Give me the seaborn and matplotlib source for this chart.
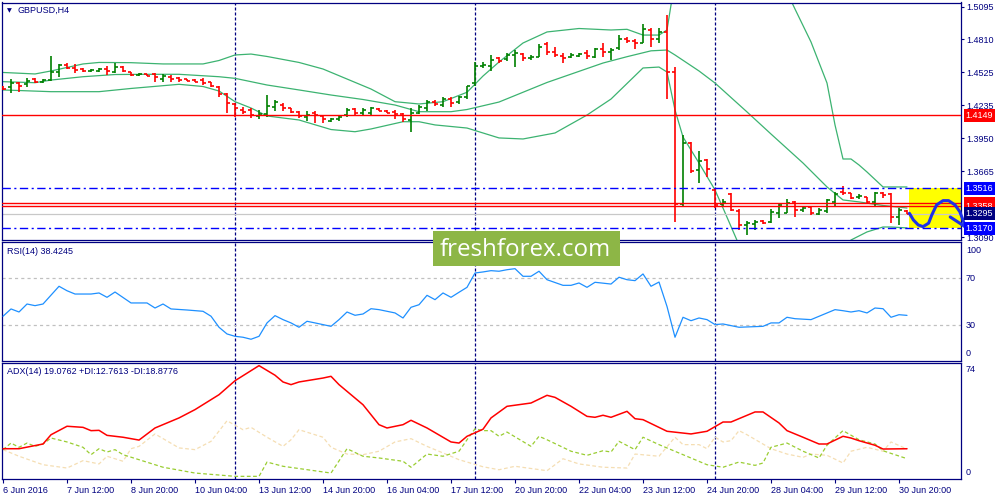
import matplotlib
matplotlib.use("Agg")
import matplotlib.pyplot as plt
from matplotlib.patches import Rectangle
import numpy as np
import seaborn as sns

sns.set_style("white")
plt.rcParams['font.family'] = ['Liberation Sans', 'DejaVu Sans']

# ---------------- data (GBPUSD H4, bar index 0 = 6 Jun 2016 04:00) ----------------
bar_open = [1.4396, 1.4396, 1.4430, 1.4422, 1.4465, 1.4439, 1.4456, 1.4526, 1.4587, 1.4561,
            1.4552, 1.4535, 1.4535, 1.4552, 1.4526, 1.4569, 1.4526, 1.4500, 1.4509, 1.4509,
            1.4465, 1.4483, 1.4474, 1.4461, 1.4456, 1.4456, 1.4439, 1.4396, 1.4335, 1.4248,
            1.4196, 1.4196, 1.4144, 1.4161, 1.4222, 1.4239, 1.4213, 1.4178, 1.4135, 1.4170,
            1.4144, 1.4100, 1.4118, 1.4152, 1.4205, 1.4170, 1.4170, 1.4205, 1.4187, 1.4178,
            1.4161, 1.4109, 1.4170, 1.4213, 1.4265, 1.4239, 1.4291, 1.4265, 1.4309, 1.4430,
            1.4578, 1.4578, 1.4648, 1.4639, 1.4674, 1.4682, 1.4648, 1.4656, 1.4769, 1.4700,
            1.4665, 1.4656, 1.4665, 1.4691, 1.4656, 1.4726, 1.4700, 1.4734, 1.4813, 1.4795,
            1.4778, 1.4891, 1.4813, 1.4874, 1.4526, 1.3379, 1.3909, 1.3675, 1.3761, 1.3501,
            1.3379, 1.3466, 1.3318, 1.3197, 1.3205, 1.3232, 1.3223, 1.3301, 1.3301, 1.3397,
            1.3327, 1.3353, 1.3292, 1.3318, 1.3397, 1.3483, 1.3475, 1.3440, 1.3440, 1.3397,
            1.3475, 1.3466, 1.3266, 1.3318]
bar_high = [1.4404, 1.4465, 1.4439, 1.4474, 1.4474, 1.4465, 1.4665, 1.4596, 1.4604, 1.4596,
            1.4561, 1.4552, 1.4561, 1.4578, 1.4604, 1.4578, 1.4526, 1.4517, 1.4509, 1.4517,
            1.4509, 1.4500, 1.4483, 1.4465, 1.4461, 1.4474, 1.4442, 1.4404, 1.4344, 1.4257,
            1.4222, 1.4213, 1.4196, 1.4326, 1.4283, 1.4257, 1.4213, 1.4187, 1.4187, 1.4187,
            1.4152, 1.4126, 1.4152, 1.4213, 1.4213, 1.4213, 1.4222, 1.4213, 1.4196, 1.4196,
            1.4170, 1.4213, 1.4239, 1.4283, 1.4283, 1.4309, 1.4309, 1.4317, 1.4404, 1.4613,
            1.4613, 1.4674, 1.4656, 1.4691, 1.4717, 1.4691, 1.4674, 1.4769, 1.4787, 1.4743,
            1.4691, 1.4691, 1.4691, 1.4717, 1.4734, 1.4778, 1.4734, 1.4847, 1.4830, 1.4813,
            1.4943, 1.4908, 1.4908, 1.5021, 1.4569, 1.3979, 1.3918, 1.3840, 1.3770, 1.3518,
            1.3423, 1.3475, 1.3336, 1.3232, 1.3240, 1.3240, 1.3336, 1.3388, 1.3423, 1.3405,
            1.3362, 1.3362, 1.3344, 1.3423, 1.3483, 1.3536, 1.3475, 1.3466, 1.3440, 1.3483,
            1.3483, 1.3475, 1.3344, 1.3327]
bar_low = [1.4370, 1.4344, 1.4352, 1.4396, 1.4430, 1.4430, 1.4448, 1.4483, 1.4552, 1.4517,
           1.4526, 1.4526, 1.4526, 1.4500, 1.4517, 1.4526, 1.4491, 1.4491, 1.4491, 1.4439,
           1.4439, 1.4439, 1.4439, 1.4448, 1.4439, 1.4413, 1.4398, 1.4309, 1.4170, 1.4135,
           1.4161, 1.4126, 1.4118, 1.4135, 1.4187, 1.4187, 1.4170, 1.4126, 1.4100, 1.4083,
           1.4083, 1.4092, 1.4100, 1.4135, 1.4152, 1.4152, 1.4152, 1.4187, 1.4170, 1.4118,
           1.4092, 1.4005, 1.4161, 1.4187, 1.4231, 1.4222, 1.4222, 1.4248, 1.4291, 1.4404,
           1.4561, 1.4535, 1.4604, 1.4622, 1.4569, 1.4622, 1.4630, 1.4656, 1.4674, 1.4656,
           1.4604, 1.4648, 1.4656, 1.4639, 1.4648, 1.4656, 1.4630, 1.4717, 1.4778, 1.4726,
           1.4778, 1.4743, 1.4778, 1.4291, 1.3223, 1.3353, 1.3649, 1.3562, 1.3614, 1.3344,
           1.3353, 1.3318, 1.3153, 1.3110, 1.3153, 1.3205, 1.3214, 1.3258, 1.3301, 1.3266,
           1.3310, 1.3284, 1.3284, 1.3301, 1.3362, 1.3457, 1.3423, 1.3423, 1.3379, 1.3362,
           1.3431, 1.3214, 1.3197, 1.3292]
bar_close = [1.4378, 1.4430, 1.4404, 1.4448, 1.4439, 1.4456, 1.4526, 1.4587, 1.4561, 1.4543,
             1.4535, 1.4543, 1.4548, 1.4535, 1.4569, 1.4535, 1.4500, 1.4509, 1.4491, 1.4483,
             1.4491, 1.4465, 1.4456, 1.4448, 1.4443, 1.4430, 1.4404, 1.4335, 1.4257, 1.4213,
             1.4178, 1.4152, 1.4161, 1.4231, 1.4265, 1.4213, 1.4178, 1.4144, 1.4152, 1.4152,
             1.4118, 1.4118, 1.4135, 1.4196, 1.4170, 1.4196, 1.4213, 1.4187, 1.4170, 1.4161,
             1.4118, 1.4170, 1.4222, 1.4265, 1.4248, 1.4291, 1.4257, 1.4309, 1.4404, 1.4578,
             1.4587, 1.4630, 1.4622, 1.4674, 1.4691, 1.4648, 1.4656, 1.4743, 1.4700, 1.4674,
             1.4648, 1.4674, 1.4682, 1.4665, 1.4726, 1.4700, 1.4717, 1.4813, 1.4795, 1.4778,
             1.4900, 1.4813, 1.4874, 1.4526, 1.3379, 1.3909, 1.3666, 1.3753, 1.3683, 1.3371,
             1.3397, 1.3327, 1.3197, 1.3214, 1.3223, 1.3214, 1.3310, 1.3371, 1.3388, 1.3327,
             1.3344, 1.3301, 1.3327, 1.3414, 1.3466, 1.3475, 1.3431, 1.3449, 1.3397, 1.3475,
             1.3457, 1.3266, 1.3327, 1.3295]

bb_upper_bar = [0, 4, 6, 10, 12, 16, 20, 25, 27, 29, 31, 33, 37, 40, 43, 46, 49, 52, 55, 58,
                60, 62, 65, 68, 72, 76, 78, 80, 82, 83, 84, 86, 90, 94, 96, 98, 99, 101, 103, 104,
                105, 106, 107, 108, 110, 113]
bb_upper = [1.4522, 1.4509, 1.4535, 1.4596, 1.4609, 1.4607, 1.4596, 1.4596, 1.4626, 1.4674,
            1.4682, 1.4661, 1.4609, 1.4552, 1.4465, 1.4378, 1.4268, 1.4248, 1.4268, 1.4350,
            1.4491, 1.4613, 1.4778, 1.4874, 1.4904, 1.4891, 1.4897, 1.4847, 1.4847, 1.4891,
            1.5325, 1.6194, 1.6889, 1.6628, 1.6020, 1.5221, 1.5073, 1.4787, 1.4430, 1.4066,
            1.3770, 1.3770, 1.3718, 1.3657, 1.3527, 1.3527]
bb_middle_bar = [0, 4, 6, 10, 14, 18, 22, 27, 29, 31, 33, 37, 41, 45, 49, 52, 56, 58, 62, 68,
                 75, 78, 81, 83, 84, 87, 89, 93, 96, 100, 103, 105, 107, 110, 113]
bb_middle = [1.4442, 1.4433, 1.4456, 1.4485, 1.4504, 1.4506, 1.4506, 1.4485, 1.4471, 1.4442,
             1.4413, 1.4370, 1.4326, 1.4287, 1.4239, 1.4181, 1.4181, 1.4200, 1.4265, 1.4435,
             1.4604, 1.4659, 1.4710, 1.4717, 1.4674, 1.4535, 1.4430, 1.4179, 1.3987, 1.3735,
             1.3527, 1.3414, 1.3397, 1.3366, 1.3344]
bb_lower_bar = [0, 6, 12, 16, 22, 25, 27, 29, 31, 33, 37, 41, 44, 46, 50, 52, 54, 58, 62, 65,
                69, 73, 76, 80, 82, 83, 84, 85, 87, 89, 90, 92, 95, 100, 104, 106, 107, 108, 110, 111,
                113]
bb_lower = [1.4370, 1.4355, 1.4355, 1.4383, 1.4419, 1.4400, 1.4361, 1.4268, 1.4213, 1.4144,
            1.4109, 1.4026, 1.4007, 1.4031, 1.4094, 1.4094, 1.4066, 1.4039, 1.3953, 1.3944,
            1.3996, 1.4152, 1.4291, 1.4561, 1.4569, 1.4526, 1.4196, 1.3961, 1.3735, 1.3501,
            1.3344, 1.3023, 1.2632, 1.2545, 1.2806, 1.3066, 1.3101, 1.3136, 1.3179, 1.3179,
            1.3171]

rsi_bar = [0, 1, 2, 3, 4, 5, 7, 8, 9, 11, 12, 13, 14, 16, 18, 19, 20, 21, 23, 25,
           26, 27, 28, 29, 30, 31, 32, 33, 34, 35, 36, 37, 38, 39, 41, 42, 43, 44, 45, 46,
           47, 49, 50, 51, 52, 53, 54, 55, 56, 57, 58, 59, 60, 61, 62, 63, 64, 65, 66, 67,
           68, 70, 71, 72, 73, 74, 76, 77, 78, 79, 80, 81, 82, 83, 84, 85, 86, 87, 88, 89,
           90, 92, 95, 96, 97, 98, 99, 101, 104, 105, 106, 107, 108, 109, 110, 111, 112, 113]
rsi_val = [37.7, 43.9, 41.3, 48.1, 46.7, 48.1, 63.2, 59.4, 56.6, 56.6, 57.5, 53.8, 58.3, 49, 49,
           44.7, 48.1, 43.9, 43, 41.9, 37.7, 28.3, 22.6, 20.6, 19.8, 18.1, 20.6, 32, 38.2, 34.8,
           32, 28.3, 33.4, 32, 29.1, 34.8, 41.3, 38.5, 39.6, 44.1, 43.3, 40.5, 36.2, 45.3, 47.5,
           55.5, 51.8, 57.5, 53.8, 58.1, 62.3, 74.5, 75.4, 76.5, 76, 77.3, 78.2, 71.7, 71.7, 76,
           68.8, 64, 64, 66, 62.3, 66.6, 65.1, 70.9, 68.8, 68, 73.7, 63.2, 66.8, 46, 19.8,
           36.8, 33.9, 36.2, 34.8, 30.6, 31.1, 28.3, 29.1, 32, 32, 36.8, 35.6, 34.8, 43.3, 42.4,
           41.3, 42.4, 40.5, 44.7, 44.1, 36.8, 39, 38.4245]

adx_bar = [0, 2, 5, 6, 8, 10, 11, 12, 13, 15, 17, 19, 22, 24, 27, 29, 32, 34, 35, 36,
           37, 40, 41, 42, 45, 47, 48, 50, 51, 53, 56, 57, 58, 60, 61, 63, 66, 68, 69, 71,
           73, 74, 75, 76, 78, 79, 80, 83, 86, 88, 90, 91, 94, 95, 97, 98, 100, 102, 103, 105,
           106, 107, 109, 110, 113]
adx_val = [19.1, 19.1, 22.1, 28, 33.4, 32.7, 30.6, 30.8, 27.6, 26.4, 24.6, 32.3, 38.7, 44, 53.5,
           62.4, 72, 65.9, 61.6, 59.9, 61.6, 64.1, 65.2, 59.9, 47.1, 34.4, 32.3, 34.4, 37.2, 32.3,
           23.4, 22.7, 27, 31.5, 38.7, 46.1, 48.2, 53.1, 51.8, 46.1, 39.7, 39.1, 40.4, 39.1, 42.9,
           38.2, 37.6, 30.2, 28.5, 30.2, 36.1, 36.1, 42.5, 42.5, 35.5, 30.6, 26.4, 22.1, 22.1, 27,
           25.9, 24.2, 21.3, 18.9, 19.0762]
pdi_bar = [0, 1, 2, 3, 4, 5, 6, 8, 10, 11, 12, 13, 14, 15, 17, 20, 24, 29, 32, 33,
           35, 41, 43, 45, 47, 50, 51, 53, 55, 57, 58, 59, 60, 61, 62, 63, 66, 67, 68, 71,
           73, 75, 76, 77, 79, 80, 82, 85, 88, 90, 92, 94, 95, 96, 98, 100, 102, 103, 105, 107,
           109, 110, 113]
pdi_val = [18.5, 22.7, 20, 22.7, 20.6, 22.1, 25.9, 23.4, 20, 15.3, 19.1, 17, 18.5, 15.3, 12.1,
           7.3, 3.6, 1.5, 1.5, 10.6, 7.9, 3.6, 19.1, 14.3, 13.2, 11.1, 7.3, 15.7, 14.3, 17.5,
           24.8, 31.8, 30.6, 30.6, 27, 29.7, 20.6, 27, 24.8, 17.5, 14.9, 17.8, 17, 23.8, 18.5,
           26.4, 21.7, 15.3, 8.9, 7.3, 10.6, 8.5, 10, 20, 22.7, 17.5, 13.2, 21.3, 30.6, 24.8,
           22.1, 17.8, 12.7613]
mdi_bar = [0, 2, 5, 8, 10, 12, 13, 15, 16, 17, 19, 22, 24, 26, 28, 30, 31, 33, 35, 36,
           37, 40, 41, 43, 45, 47, 49, 51, 53, 55, 57, 60, 62, 64, 68, 70, 72, 75, 78, 79,
           82, 84, 85, 87, 88, 89, 90, 91, 92, 93, 96, 98, 100, 101, 103, 105, 106, 108, 110, 111,
           113]
mdi_val = [18.5, 14.3, 8.9, 6.8, 11.5, 9.4, 14.3, 11.1, 19.1, 20.6, 28.5, 19.6, 18.5, 23.8, 36.9,
           31.2, 32.7, 26.4, 20.6, 24.8, 31.2, 26.4, 20, 15.7, 15.3, 17.5, 23.4, 25.5, 20.6, 16.4,
           12.1, 7.6, 5.7, 7.9, 5.1, 12.7, 9.4, 7.3, 6.8, 15.7, 14.3, 26.4, 21.7, 21.7, 19.1,
           26.4, 23.4, 24.2, 30.6, 28, 19.1, 15.7, 13.6, 15.7, 14.9, 10, 17.5, 20, 17.5, 23.4,
           18.8776]

tick_bars = [0, 8, 16, 24, 32, 40, 48, 56, 64, 72, 80, 88, 96, 104, 112]
tick_labels = ["6 Jun 2016", "7 Jun 12:00", "8 Jun 20:00", "10 Jun 04:00", "13 Jun 12:00",
               "14 Jun 20:00", "16 Jun 04:00", "17 Jun 12:00", "20 Jun 20:00", "22 Jun 04:00",
               "23 Jun 12:00", "24 Jun 20:00", "28 Jun 04:00", "29 Jun 12:00", "30 Jun 20:00"]
week_start_bars = [29, 59, 89]
price_ticks = [1.5095, 1.4810, 1.4525, 1.4235, 1.3950, 1.3665, 1.3090]
red_levels = [1.4149, 1.3384, 1.3358]
blue_levels = [1.3516, 1.3170]
last_price = 1.3295
rsi_levels = [70, 30]

# hand-drawn forecast path (price vs bar)
forecast_bar = [113.3, 113.8, 114.4, 115.0, 115.7, 116.1, 116.7, 117.5, 118.2, 119.0, 119.6, 120.0, 120.25]
forecast_price = [1.3298, 1.3240, 1.3197, 1.3182, 1.3212, 1.3284, 1.3371, 1.3408, 1.3408, 1.3371,
                  1.3312, 1.3240, 1.3182]
arrow_bar = [118.4, 120.25]
arrow_price = [1.3266, 1.3182]

# ---------------- style ----------------
NAVY = '#000080'
GREEN = '#008000'
RED = '#FF0000'
BLUE = '#0000FF'
BAND = '#3CB371'
FS = 6.5

fig = plt.figure(figsize=(10, 5), dpi=100)
fig.patch.set_facecolor('white')


def rect(x0, y0, x1, y1):
    return [x0 / 1000, 1 - y1 / 500, (x1 - x0) / 1000, (y1 - y0) / 500]


ax_main = fig.add_axes(rect(2.3, 2.5, 961, 240))
ax_rsi = fig.add_axes(rect(2.3, 242, 961, 360.5))
ax_adx = fig.add_axes(rect(2.3, 362.5, 961, 478.7))

n = len(bar_close)
XMIN, XMAX = -0.09, 119.75
for ax in (ax_main, ax_rsi, ax_adx):
    ax.set_facecolor('white')
    ax.set_xlim(XMIN, XMAX)
    for s in ax.spines.values():
        s.set_color(NAVY)
        s.set_linewidth(0.9)
    for wb in week_start_bars:
        ax.axvline(wb, color=NAVY, lw=0.9, dashes=(2.4, 1.6), zorder=1)
    ax.tick_params(axis='x', bottom=False, labelbottom=False)

# ---------------- main price pane ----------------
ax = ax_main
ax.set_ylim(1.3066, 1.5130)

ax.fill_between([n - 0.75, XMAX], blue_levels[1], blue_levels[0], color='#FFFF00', lw=0, zorder=0.5)

sns.lineplot(x=bb_upper_bar, y=bb_upper, ax=ax, color=BAND, lw=0.9, estimator=None, zorder=2)
sns.lineplot(x=bb_middle_bar, y=bb_middle, ax=ax, color=BAND, lw=0.9, estimator=None, zorder=2)
sns.lineplot(x=bb_lower_bar, y=bb_lower, ax=ax, color=BAND, lw=0.9, estimator=None, zorder=2)

bars = np.arange(n)
o = np.array(bar_open); c = np.array(bar_close)
cols = np.where(c >= o, GREEN, RED)
ax.vlines(bars, bar_low, bar_high, colors=cols, lw=1.2, zorder=3)
ax.hlines(o, bars - 0.42, bars, colors=cols, lw=1.2, zorder=3)
ax.hlines(c, bars, bars + 0.42, colors=cols, lw=1.2, zorder=3)

ax.axhline(last_price, color='#C8C8C8', lw=0.9, zorder=2.5)
for v in red_levels:
    ax.axhline(v, color=RED, lw=1.0, zorder=4)
for v in blue_levels:
    ax.axhline(v, color=BLUE, lw=1.0, dashes=(6, 2.5, 1.5, 2.5), zorder=4)

sns.lineplot(x=forecast_bar, y=forecast_price, ax=ax, color='#1E32E8', lw=2.2, estimator=None,
             zorder=6, clip_on=False, solid_capstyle='round', solid_joinstyle='round')
sns.lineplot(x=arrow_bar, y=arrow_price, ax=ax, color='#1E32E8', lw=2.2, estimator=None,
             zorder=6, clip_on=False, solid_capstyle='round')

ax.yaxis.tick_right()
ax.set_yticks(price_ticks)
ax.set_yticklabels([f'{v:.4f}' for v in price_ticks])
ax.tick_params(axis='y', right=True, left=False, labelright=True, labelleft=False, length=2.2,
               width=0.8, color=NAVY, labelcolor=NAVY, labelsize=FS, pad=1.6, direction='out')


def price_box(val, fc, z):
    ax_main.annotate(f'{val:.4f}', xy=(1, val), xycoords=('axes fraction', 'data'),
                     xytext=(3.4, 0), textcoords='offset points', ha='left', va='center',
                     fontsize=FS, color='white', annotation_clip=False, zorder=z,
                     bbox=dict(boxstyle='square,pad=0.22', fc=fc, ec='none'))


price_box(red_levels[0], RED, 10)
price_box(blue_levels[0], BLUE, 10)
price_box(red_levels[1], RED, 11)
price_box(red_levels[2], RED, 12)
price_box(last_price, NAVY, 13)
price_box(blue_levels[1], BLUE, 14)

# ---------------- RSI pane ----------------
ax = ax_rsi
ax.set_ylim(0, 100.9)
for lv in rsi_levels:
    ax.axhline(lv, color='#C0C0C0', lw=0.9, dashes=(2.5, 2.5), zorder=1)
sns.lineplot(x=rsi_bar, y=rsi_val, ax=ax, color='#1E90FF', lw=0.9, estimator=None, zorder=3)
ax.set_yticks([])
for val, dy in ((100, -5.0), (70, 0), (30, 0), (0, 4.9)):
    ax.annotate(str(val), xy=(1, val), xycoords=('axes fraction', 'data'), xytext=(3.6, dy),
                textcoords='offset points', ha='left', va='center', fontsize=FS, color=NAVY,
                annotation_clip=False)

# ---------------- ADX pane ----------------
ax = ax_adx
ax.set_ylim(0, 74)
sns.lineplot(x=mdi_bar, y=mdi_val, ax=ax, color='#F5DEB3', lw=0.9, dashes=False, linestyle=(0, (3, 2)),
             estimator=None, zorder=2)
sns.lineplot(x=pdi_bar, y=pdi_val, ax=ax, color='#9ACD32', lw=0.9, linestyle=(0, (3, 2)),
             estimator=None, zorder=2)
sns.lineplot(x=adx_bar, y=adx_val, ax=ax, color=RED, lw=1.1, estimator=None, zorder=3)
ax.set_yticks([])
for val, dy in ((74, -5.2), (0, 4.8)):
    ax.annotate(str(val), xy=(1, val), xycoords=('axes fraction', 'data'), xytext=(3.6, dy),
                textcoords='offset points', ha='left', va='center', fontsize=FS, color=NAVY,
                annotation_clip=False)

ax.set_xticks(tick_bars)
ax.set_xticklabels(tick_labels, ha='left')
ax.tick_params(axis='x', bottom=True, labelbottom=True, length=3, width=0.8, color=NAVY,
               labelcolor=NAVY, labelsize=FS, pad=2, direction='out')

for a in (ax_main, ax_rsi, ax_adx):
    a.set_xlabel('')
    a.set_ylabel('')

# ---------------- pane captions ----------------
fig.text(9.5 / 1000, 1 - 10.7 / 500, '\u25BC', family='DejaVu Sans', fontsize=4.5, color=NAVY,
         ha='center', va='center')
fig.text(18 / 1000, 1 - 10.7 / 500, 'GBPUSD,H4', fontsize=FS, color=NAVY, va='center')
fig.text(7 / 1000, 1 - 251.3 / 500, 'RSI(14) 38.4245', fontsize=FS, color=NAVY, va='center')
fig.text(7 / 1000, 1 - 371.3 / 500, 'ADX(14) 19.0762 +DI:12.7613 -DI:18.8776', fontsize=FS,
         color=NAVY, va='center')

# ---------------- watermark ----------------
fig.add_artist(Rectangle((433 / 1000, 1 - 265.5 / 500), 187 / 1000, 34.5 / 500,
                         transform=fig.transFigure, fc='#8DB646', ec='none', zorder=20))
fig.text(525 / 1000, 1 - 256.5 / 500, 'freshforex.com', family='Open Sans', fontsize=17.4,
         color='white', ha='center', va='baseline', zorder=21)

fig.savefig('out.png', dpi=100, facecolor='white')
